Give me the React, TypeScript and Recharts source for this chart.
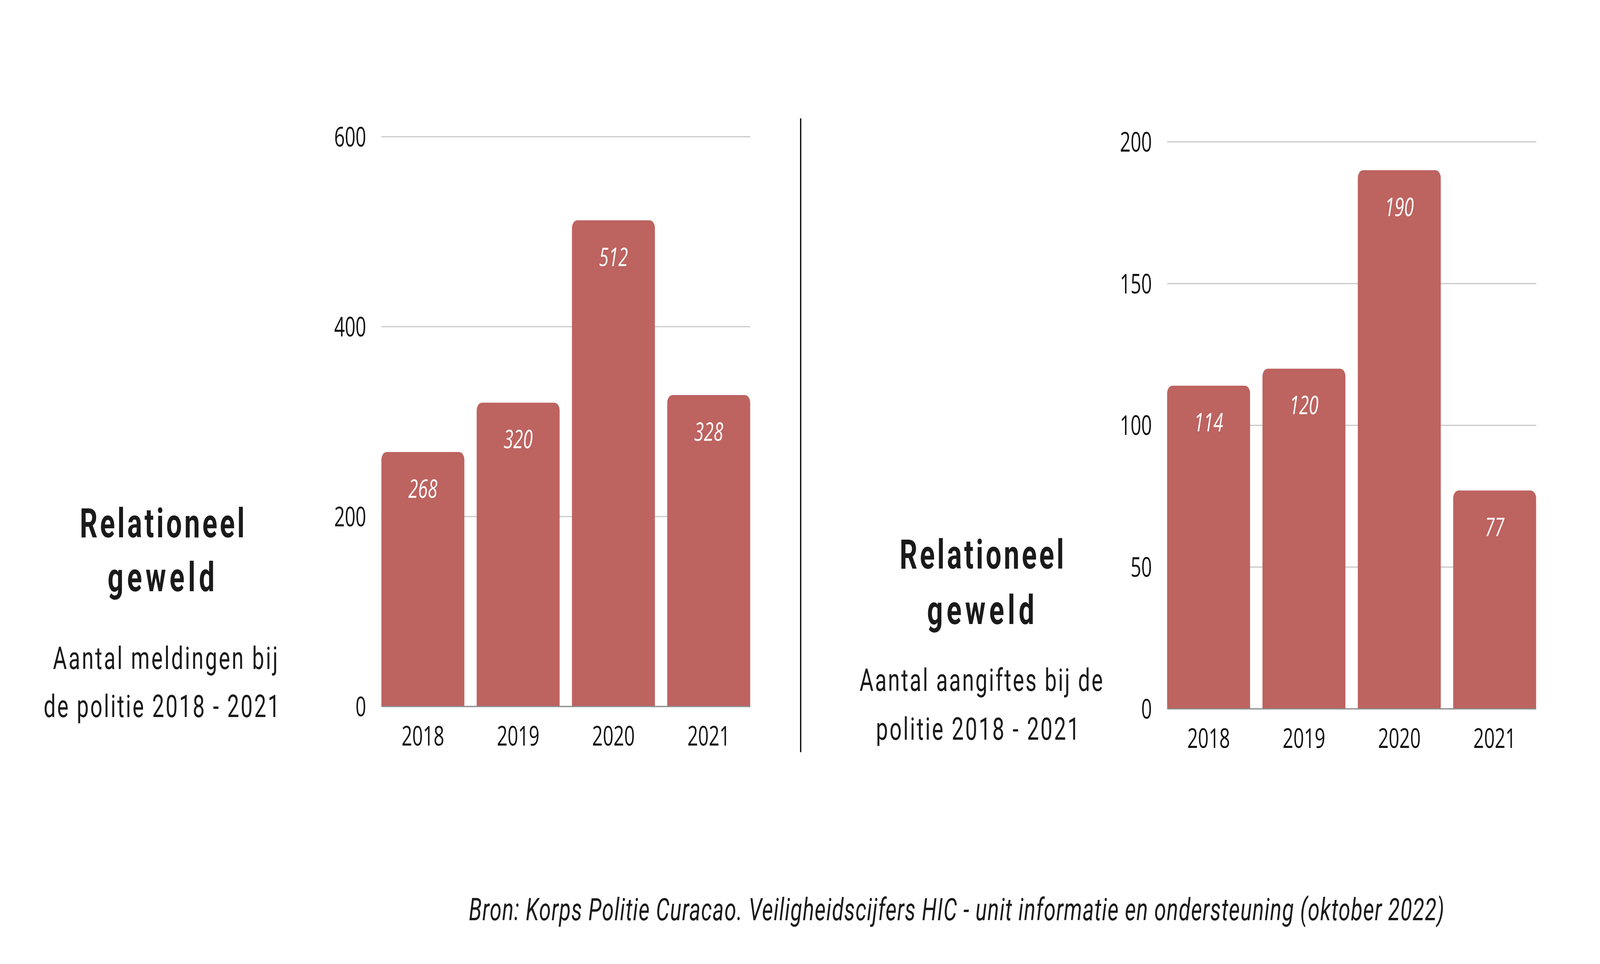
import { BarChart, Bar, XAxis, YAxis, CartesianGrid, LabelList } from 'recharts';

const years = ['2018', '2019', '2020', '2021'];
const meldingen = [268, 320, 512, 328];
const aangiftes = [114, 120, 190, 77];
const meldingenTicks = [0, 200, 400, 600];
const aangiftesTicks = [0, 50, 100, 150, 200];

const BAR_COLOR = '#BD6360';
const TEXT_COLOR = '#1a1a1a';

// the design is laid out on a 5999 x 2467 canvas
const DESIGN_W = 5999;
const DESIGN_H = 2467;

const meldingenData = years.map((year, i) => ({ year, value: meldingen[i] }));
const aangiftesData = years.map((year, i) => ({ year, value: aangiftes[i] }));

// white italic value near the top of each bar
const renderValueLabel = (props: any) => {
    const { x, y, width, value } = props;
    return (
        <text
            x={Number(x) + Number(width) / 2}
            y={Number(y) + 117}
            textAnchor="middle"
            fill="#ffffff"
            fontSize={66}
            fontStyle="italic"
            fontFamily="'Open Sans', sans-serif"
        >
            {value}
        </text>
    );
};

interface PanelProps {
    data: { year: string; value: number }[];
    ticks: number[];
    width: number;
    height: number;
    margin: { top: number; right: number; bottom: number; left: number };
}

const Panel = ({ data, ticks, width, height, margin }: PanelProps) => {
    const tickStyle = { fill: '#111111', fontSize: 70, fontFamily: "'Open Sans', sans-serif" };
    return (
        <BarChart width={width} height={height} data={data} margin={margin}>
            <CartesianGrid vertical={false} stroke="#c9c9c9" strokeWidth={3} />
            <XAxis
                dataKey="year"
                height={150}
                padding={{ left: -23, right: -23 }}
                tickLine={false}
                tickSize={0}
                tickMargin={50}
                axisLine={{ stroke: '#8c8c8c', strokeWidth: 3 }}
                tick={tickStyle}
                interval={0}
            />
            <YAxis
                type="number"
                width={300}
                domain={[0, ticks[ticks.length - 1]]}
                ticks={ticks}
                tickLine={false}
                tickSize={0}
                tickMargin={57}
                axisLine={false}
                tick={tickStyle}
            />
            <Bar dataKey="value" fill={BAR_COLOR} barSize={311} radius={[20, 20, 0, 0]} isAnimationActive={false}>
                <LabelList dataKey="value" content={renderValueLabel} />
            </Bar>
        </BarChart>
    );
};

const App = () => {
    const titleFont = "Roboto, 'Noto Sans', sans-serif";
    // the window can be narrower than the design, so fit the canvas into it
    const viewW = typeof window !== 'undefined' ? window.innerWidth : DESIGN_W;
    const viewH = typeof window !== 'undefined' ? window.innerHeight : DESIGN_H;
    const sx = Math.min(1, viewW / DESIGN_W);
    const sy = Math.min(1, viewH / DESIGN_H);

    return (
        <div
            style={{
                position: 'absolute',
                left: 0,
                top: 0,
                width: DESIGN_W * sx,
                height: DESIGN_H * sy,
                overflow: 'hidden',
                background: '#ffffff',
            }}
        >
            <div
                style={{
                    position: 'absolute',
                    left: 0,
                    top: 0,
                    width: DESIGN_W,
                    height: DESIGN_H,
                    transform: `scale(${sx}, ${sy})`,
                    transformOrigin: '0 0',
                }}
            >
                <div style={{ position: 'absolute', left: 0, top: 0 }}>
                    <Panel
                        data={meldingenData}
                        ticks={meldingenTicks}
                        width={3000}
                        height={2000}
                        margin={{ top: 350, right: 187, bottom: 42, left: 1130 }}
                    />
                </div>
                <div style={{ position: 'absolute', left: 3000, top: 0 }}>
                    <Panel
                        data={aangiftesData}
                        ticks={aangiftesTicks}
                        width={2999}
                        height={2000}
                        margin={{ top: 363, right: 239, bottom: 36, left: 1076 }}
                    />
                </div>
                <svg
                    width={DESIGN_W}
                    height={DESIGN_H}
                    style={{ position: 'absolute', left: 0, top: 0, pointerEvents: 'none' }}
                >
                    <line x1={3002} y1={303} x2={3002} y2={1925} stroke="#111111" strokeWidth={5} />

                    <g fill={TEXT_COLOR} fontFamily={titleFont} textAnchor="middle">
                        <text x={608} y={1375} fontSize={104} fontWeight={700} textLength={618} lengthAdjust="spacing">Relationeel</text>
                        <text x={604} y={1513} fontSize={104} fontWeight={700} textLength={401} lengthAdjust="spacing">geweld</text>
                        <text x={620} y={1712} fontSize={80} textLength={843} lengthAdjust="spacing">Aantal meldingen bij</text>
                        <text x={606} y={1835} fontSize={80} textLength={885} lengthAdjust="spacing">de politie 2018 - 2021</text>

                        <text x={3681} y={1455} fontSize={104} fontWeight={700} textLength={616} lengthAdjust="spacing">Relationeel</text>
                        <text x={3677} y={1597} fontSize={104} fontWeight={700} textLength={402} lengthAdjust="spacing">geweld</text>
                        <text x={3679} y={1768} fontSize={80} textLength={912} lengthAdjust="spacing">Aantal aangiftes bij de</text>
                        <text x={3666} y={1893} fontSize={80} textLength={763} lengthAdjust="spacing">politie 2018 - 2021</text>
                    </g>

                    <text
                        x={1758}
                        y={2355}
                        fill={TEXT_COLOR}
                        fontFamily={titleFont}
                        fontSize={80}
                        fontStyle="italic"
                        textLength={3657}
                        lengthAdjust="spacing"
                    >
                        Bron: Korps Politie Curacao. Veiligheidscijfers HIC - unit informatie en ondersteuning (oktober 2022)
                    </text>
                </svg>
            </div>
        </div>
    );
};

export default App;
